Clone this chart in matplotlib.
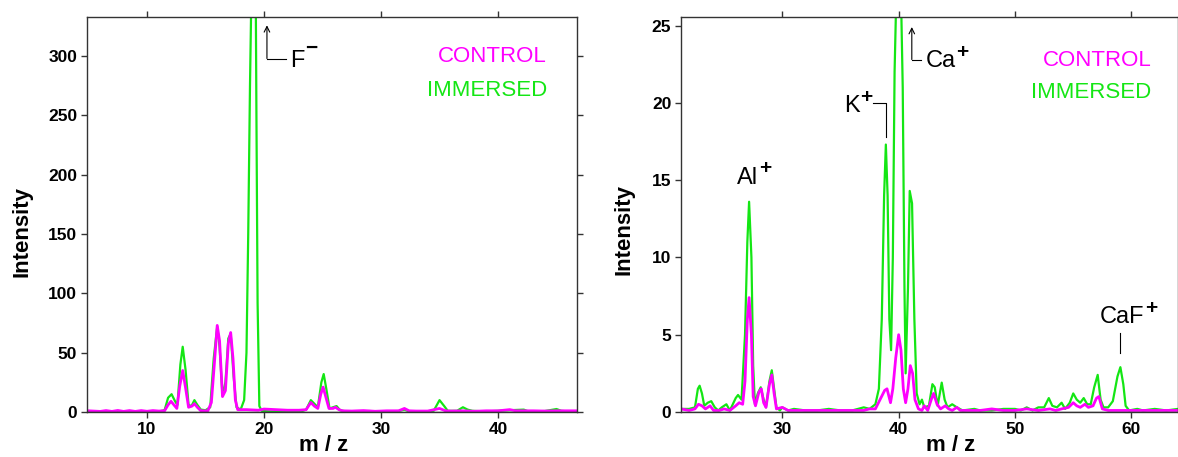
import numpy as np
import matplotlib
matplotlib.use("Agg")
import matplotlib.pyplot as plt

plt.rcParams['font.family'] = ['Liberation Sans', 'DejaVu Sans']

GREEN = '#14e614'
MAGENTA = '#ff00ff'

# ---- negative ion spectrum (left panel) ----
imm_neg_mz = [5.0, 6.0, 7.0, 8.0, 9.0, 10.0, 11.0, 11.5, 11.8, 12.1, 12.4, 12.6, 12.85, 13.05,
              13.3, 13.55, 13.8, 14.05, 14.3, 14.6, 15.0, 15.4, 15.7, 16.0, 16.2, 16.45, 16.7,
              16.95, 17.15, 17.4, 17.65, 18.0, 18.3, 18.5, 18.65, 18.8, 18.9, 19.3, 19.35, 19.45,
              19.6, 19.8, 20.5, 21.5, 22.5, 23.2, 23.6, 24.0, 24.3, 24.6, 24.9, 25.1, 25.35,
              25.6, 25.9, 26.2, 26.5, 27.0, 28.0, 29.0, 30.0, 31.5, 32.0, 32.4, 33.5, 34.5,
              35.0, 35.4, 35.7, 36.5, 37.0, 37.4, 37.8, 39.0, 40.0, 41.0, 42.2, 42.6, 44.0,
              45.0, 45.4, 46.0, 46.75]
imm_neg_int = [0.5, 0.3, 0.5, 0.3, 0.4, 0.3, 0.5, 1.5, 12, 15, 9, 6, 40, 55,
               35, 6, 5, 10, 6, 2, 1.5, 4, 45, 72, 55, 14, 25,
               62, 66, 30, 4, 2, 10, 50, 150, 275, 340, 340, 252, 92,
               5, 1, 0.5, 0.5, 0.5, 0.5, 2, 10, 7, 4, 25, 32, 18,
               3, 4, 5, 1.5, 0.5, 0.5, 0.8, 0.5, 0.8, 2, 0.5, 0.5, 1,
               10, 5, 1, 1, 4, 2, 1, 0.5, 1, 1.5, 2, 0.5, 0.8,
               2.5, 1, 0.5, 0.5]

ctl_neg_mz = [5.0, 6.0, 6.5, 7.0, 7.5, 8.0, 8.5, 9.0, 9.5, 10.0, 10.5, 11.0, 11.5, 11.8,
              12.05, 12.3, 12.55, 12.8, 13.05, 13.3, 13.55, 13.85, 14.05, 14.3, 14.6, 15.2,
              15.5, 15.75, 16.0, 16.2, 16.45, 16.7, 16.95, 17.15, 17.35, 17.55, 17.75, 18.5,
              19.5, 20.0, 21.0, 22.0, 23.0, 23.6, 24.0, 24.3, 24.6, 24.85, 25.05, 25.3, 25.55,
              25.9, 26.1, 26.4, 26.7, 27.5, 28.5, 29.5, 30.5, 31.5, 32.0, 32.4, 33.0, 34.0,
              35.0, 35.5, 36.0, 37.0, 38.0, 39.0, 40.0, 41.0, 41.5, 42.0, 43.0, 44.0, 45.0,
              46.0, 46.75]
ctl_neg_int = [1, 0.5, 1.2, 0.5, 1.3, 0.5, 1.2, 0.5, 1.2, 0.6, 1.2, 0.8, 1, 6,
               9, 6, 3, 22, 35, 20, 4, 5, 7, 4, 1, 1,
               8, 40, 73, 60, 13, 18, 58, 67, 45, 10, 2, 2,
               1.5, 2.5, 2, 1.5, 1.5, 2, 8, 5, 3, 15, 21, 12, 3,
               3, 4, 2, 1, 0.8, 1.2, 0.6, 1, 1, 3, 1, 0.8, 0.8,
               3, 1, 0.8, 1, 0.6, 1, 1, 2, 1, 1, 1, 0.8, 1,
               1, 1]

# ---- positive ion spectrum (right panel) ----
imm_pos_mz = [21.3, 22.0, 22.5, 22.75, 22.9, 23.1, 23.3, 23.6, 23.9, 24.2, 24.5, 24.8, 25.2,
              25.5, 26.0, 26.2, 26.5, 26.8, 27.0, 27.15, 27.35, 27.5, 27.65, 27.9, 28.15, 28.4,
              28.6, 28.9, 29.1, 29.3, 29.5, 29.8, 30.0, 30.5, 31.0, 32.0, 33.0, 34.0, 35.0,
              36.0, 37.0, 37.5, 38.0, 38.3, 38.55, 38.75, 38.9, 39.05, 39.2, 39.35, 39.5, 39.65,
              39.8, 40.2, 40.35, 40.5, 40.6, 40.8, 40.95, 41.15, 41.35, 41.55, 41.8, 42.0, 42.2,
              42.6, 42.9, 43.1, 43.35, 43.7, 43.95, 44.2, 44.6, 45.0, 45.5, 46.5, 47.0, 48.0,
              49.0, 50.0, 50.5, 51.0, 51.5, 52.0, 52.5, 52.9, 53.2, 53.6, 54.0, 54.3, 54.7,
              55.0, 55.3, 55.6, 55.9, 56.2, 56.5, 56.8, 57.1, 57.35, 57.6, 58.0, 58.4, 58.8,
              59.05, 59.3, 59.5, 59.8, 60.5, 61.0, 62.0, 63.0, 64.0]
imm_pos_int = [0.2, 0.2, 0.3, 1.5, 1.7, 1.2, 0.4, 0.6, 0.7, 0.3, 0.1, 0.3, 0.5,
               0.1, 0.9, 1.1, 0.8, 5, 11, 13.6, 10, 3, 0.5, 1.2, 1.6, 0.8,
               0.3, 2.0, 2.7, 1.5, 0.3, 0.1, 0.3, 0.1, 0.2, 0.1, 0.1, 0.2, 0.1,
               0.1, 0.3, 0.2, 0.5, 1.5, 6, 14, 17.3, 14, 6, 4, 10, 22,
               27, 27, 21, 8, 2.5, 8, 14.3, 13.5, 6, 1.2, 0.5, 0.8, 0.3,
               0.4, 1.8, 1.6, 0.4, 1.9, 0.8, 0.3, 0.5, 0.3, 0.1, 0.2, 0.1, 0.1,
               0.2, 0.2, 0.1, 0.3, 0.1, 0.3, 0.3, 0.9, 0.4, 0.3, 0.6, 0.2, 0.6,
               1.2, 0.8, 0.6, 0.9, 0.5, 0.5, 1.6, 2.4, 0.8, 0.3, 0.3, 0.7, 2.3,
               2.9, 1.8, 0.4, 0.1, 0.2, 0.1, 0.2, 0.1, 0.2]

ctl_pos_mz = [21.3, 22.0, 22.5, 22.8, 23.1, 23.4, 23.8, 24.1, 24.6, 25.0, 25.5, 26.0, 26.3,
              26.6, 26.8, 27.0, 27.15, 27.35, 27.5, 27.7, 28.0, 28.2, 28.4, 28.6, 28.9, 29.1,
              29.3, 29.5, 30.0, 30.5, 31.0, 33.0, 35.0, 37.0, 37.5, 38.0, 38.4, 38.8, 39.0,
              39.3, 39.5, 39.75, 40.0, 40.2, 40.4, 40.6, 40.8, 41.0, 41.2, 41.4, 41.7, 42.0,
              42.2, 42.5, 42.8, 43.0, 43.3, 43.6, 44.0, 44.3, 44.6, 45.0, 45.3, 46.0, 47.0,
              48.0, 49.0, 50.0, 51.0, 52.0, 53.0, 53.5, 54.0, 54.6, 55.0, 55.3, 55.6, 56.0,
              56.3, 56.7, 57.0, 57.2, 57.5, 58.0, 59.0, 60.0, 61.0, 62.0, 64.0]
ctl_pos_int = [0.2, 0.1, 0.2, 0.5, 0.4, 0.2, 0.4, 0.1, 0.1, 0.2, 0.1, 0.4, 0.6,
               0.5, 2, 6, 7.4, 5, 1, 0.4, 1.3, 1.5, 0.6, 0.3, 1.8, 2.4,
               1.2, 0.2, 0.3, 0.1, 0.1, 0.1, 0.1, 0.1, 0.2, 0.2, 0.8, 1.4, 1.5,
               0.6, 1.5, 3.5, 5.0, 4, 1.5, 0.6, 1.5, 3.0, 2.5, 0.8, 0.2, 0.1,
               0.4, 0.1, 0.8, 1.2, 0.5, 0.2, 0.4, 0.2, 0.1, 0.3, 0.1, 0.1, 0.1,
               0.2, 0.1, 0.1, 0.2, 0.1, 0.2, 0.1, 0.2, 0.3, 0.6, 0.4, 0.3, 0.5,
               0.3, 0.4, 0.9, 1.0, 0.2, 0.1, 0.1, 0.1, 0.1, 0.1, 0.1]

W, H = 1178, 457
fig = plt.figure(figsize=(W / 100, H / 100), dpi=100)
ax1 = fig.add_axes([87 / W, 45 / H, 490 / W, 395 / H])
ax2 = fig.add_axes([681 / W, 45 / H, 497 / W, 395 / H])
renderer = fig.canvas.get_renderer()


def style_axes(ax, xlim, ylim, xticks, yticks):
    ax.plot(xlim, [0, 0], color='#333333', lw=1)
    ax.set_xlim(*xlim)
    ax.set_ylim(*ylim)
    ax.set_xticks(xticks)
    ax.set_yticks(yticks)
    for sp in ax.spines.values():
        sp.set_color('#333333')
        sp.set_linewidth(1.0)
    ax.tick_params(direction='out', length=4, width=1, color='#333333',
                   top=True, right=True, labelsize=12.5, pad=3)
    for lab in ax.get_xticklabels() + ax.get_yticklabels():
        lab.set_fontweight('bold')
    ax.set_ylabel('Intensity', fontsize=16, fontweight='bold')
    ax.set_xlabel('m / z', fontsize=16, fontweight='bold')


def ion_label(ax, x, y, base, sup, sup_dy=9):
    # base text, then a bold superscript placed just after it
    t = ax.text(x, y, base, fontsize=17, ha='left', va='baseline')
    bb = t.get_window_extent(renderer)
    fig.text(bb.x1 + 1, bb.y1 - 2 + sup_dy - 9, sup, fontsize=15, fontweight='bold',
             ha='left', va='center', transform=None)


# left panel
ax1.plot(imm_neg_mz, imm_neg_int, color=GREEN, lw=1.6)
ax1.plot(ctl_neg_mz, ctl_neg_int, color=MAGENTA, lw=2.0)
style_axes(ax1, (4.87, 46.75), (0, 333), [10, 20, 30, 40], [0, 50, 100, 150, 200, 250, 300])
ax1.yaxis.set_label_coords(-0.112, 0.458)
ax1.xaxis.set_label_coords(0.482, -0.058)
ax1.text(0.939, 0.899, 'CONTROL', color=MAGENTA, fontsize=16, ha='right', va='center',
         transform=ax1.transAxes)
ax1.text(0.939, 0.815, 'IMMERSED', color=GREEN, fontsize=16, ha='right', va='center',
         transform=ax1.transAxes)
ax1.annotate('', xy=(20.25, 326), xytext=(20.25, 298),
             arrowprops=dict(arrowstyle='->', lw=0.8, color='black', shrinkA=0, shrinkB=0))
ax1.plot([20.25, 21.9], [298, 298], color='black', lw=0.8)
ion_label(ax1, 22.2, 291, 'F', '\u2212', sup_dy=12)

# right panel
ax2.plot(imm_pos_mz, imm_pos_int, color=GREEN, lw=1.6)
ax2.plot(ctl_pos_mz, ctl_pos_int, color=MAGENTA, lw=2.0)
style_axes(ax2, (21.3, 64.0), (0, 25.55), [30, 40, 50, 60], [0, 5, 10, 15, 20, 25])
ax2.yaxis.set_label_coords(-0.093, 0.461)
ax2.xaxis.set_label_coords(0.543, -0.058)
ax2.text(0.946, 0.891, 'CONTROL', color=MAGENTA, fontsize=16, ha='right', va='center',
         transform=ax2.transAxes)
ax2.text(0.946, 0.808, 'IMMERSED', color=GREEN, fontsize=16, ha='right', va='center',
         transform=ax2.transAxes)
ax2.annotate('', xy=(41.13, 24.9), xytext=(41.13, 22.8),
             arrowprops=dict(arrowstyle='->', lw=0.8, color='black', shrinkA=0, shrinkB=0))
ax2.plot([41.13, 41.95], [22.8, 22.8], color='black', lw=0.8)
ion_label(ax2, 42.3, 22.3, 'Ca', '+')
ax2.plot([37.8, 38.9, 38.9], [20.0, 20.0, 17.8], color='black', lw=0.8)
ion_label(ax2, 35.3, 19.4, 'K', '+')
ion_label(ax2, 26.1, 14.75, 'Al', '+')
ax2.plot([59.0, 59.0], [3.8, 5.1], color='black', lw=0.8)
ion_label(ax2, 57.3, 5.75, 'CaF', '+')

fig.savefig('out.png', dpi=100)
